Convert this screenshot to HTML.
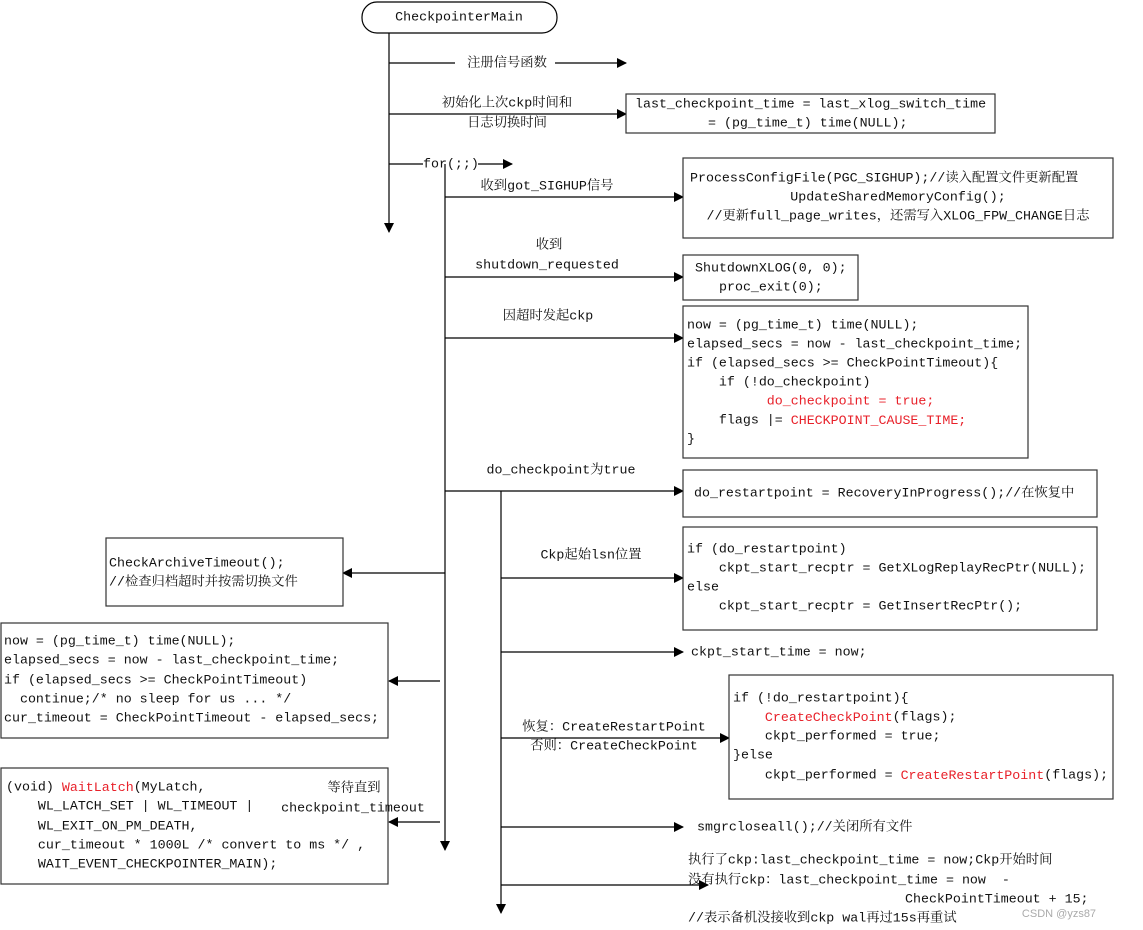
<!DOCTYPE html>
<html><head><meta charset="utf-8"><style>
html,body{margin:0;padding:0;background:#fff;width:1143px;height:930px;overflow:hidden}
svg text{font-family:"Liberation Mono","Noto Serif CJK SC",monospace;font-size:13.3px;fill:#111;dominant-baseline:middle;white-space:pre}
.r{fill:#e8212a}
</style></head><body>
<svg width="1143" height="930" xmlns="http://www.w3.org/2000/svg">
<defs>
<marker id="a" markerWidth="10" markerHeight="10" refX="9" refY="5" orient="auto" markerUnits="userSpaceOnUse"><path d="M0,0 L10,5 L0,10 z" fill="#000"/></marker>
</defs>
<g stroke="#000" stroke-width="1.2" fill="none">
<rect x="362" y="2" width="195" height="31" rx="15" fill="#fff"/>
<line x1="389" y1="33" x2="389" y2="232" marker-end="url(#a)"/>
<line x1="389" y1="63" x2="626" y2="63" marker-end="url(#a)"/>
<line x1="389" y1="114" x2="626" y2="114" marker-end="url(#a)"/>
<line x1="389" y1="164" x2="423" y2="164"/>
<line x1="478" y1="164" x2="512" y2="164" marker-end="url(#a)"/>
<line x1="445" y1="164" x2="445" y2="850" marker-end="url(#a)"/>
<line x1="445" y1="197" x2="683" y2="197" marker-end="url(#a)"/>
<line x1="445" y1="277" x2="683" y2="277" marker-end="url(#a)"/>
<line x1="445" y1="338" x2="683" y2="338" marker-end="url(#a)"/>
<line x1="445" y1="491" x2="683" y2="491" marker-end="url(#a)"/>
<line x1="501" y1="491" x2="501" y2="913" marker-end="url(#a)"/>
<line x1="501" y1="578" x2="683" y2="578" marker-end="url(#a)"/>
<line x1="501" y1="652" x2="683" y2="652" marker-end="url(#a)"/>
<line x1="501" y1="738" x2="729" y2="738" marker-end="url(#a)"/>
<line x1="501" y1="827" x2="683" y2="827" marker-end="url(#a)"/>
<line x1="501" y1="885" x2="708" y2="885" marker-end="url(#a)"/>
<line x1="445" y1="573" x2="343" y2="573" marker-end="url(#a)"/>
<line x1="440" y1="681" x2="389" y2="681" marker-end="url(#a)"/>
<line x1="440" y1="822" x2="389" y2="822" marker-end="url(#a)"/>
</g>
<g stroke="#333" stroke-width="1.2" fill="#fff">
<rect x="626" y="94" width="369" height="39"/>
<rect x="683" y="158" width="430" height="80"/>
<rect x="683" y="255" width="175" height="45"/>
<rect x="683" y="306" width="345" height="152"/>
<rect x="683" y="470" width="414" height="47"/>
<rect x="683" y="527" width="414" height="103"/>
<rect x="729" y="675" width="384" height="124"/>
<rect x="106" y="538" width="237" height="68"/>
<rect x="1" y="623" width="387" height="115"/>
<rect x="1" y="768" width="387" height="116"/>
</g>
<g fill="#fff">
<rect x="455" y="54" width="100" height="18"/>
<rect x="423" y="156" width="55" height="7"/>
</g>
<text x="459" y="17" text-anchor="middle">CheckpointerMain</text>
<text x="507" y="63" text-anchor="middle">注册信号函数</text>
<text x="507" y="103" text-anchor="middle">初始化上次ckp时间和</text>
<text x="507" y="123" text-anchor="middle">日志切换时间</text>
<text x="635" y="104">last_checkpoint_time = last_xlog_switch_time</text>
<text x="708" y="123">= (pg_time_t) time(NULL);</text>
<text x="423" y="164">for(;;)</text>
<text x="547" y="186" text-anchor="middle">收到got_SIGHUP信号</text>
<text x="690" y="178">ProcessConfigFile(PGC_SIGHUP);//读入配置文件更新配置</text>
<text x="898" y="197" text-anchor="middle">UpdateSharedMemoryConfig();</text>
<text x="898" y="216" text-anchor="middle">//更新full_page_writes，还需写入XLOG_FPW_CHANGE日志</text>
<text x="549" y="245" text-anchor="middle">收到</text>
<text x="547" y="265" text-anchor="middle">shutdown_requested</text>
<text x="695" y="268">ShutdownXLOG(0, 0);</text>
<text x="719" y="287">proc_exit(0);</text>
<text x="548" y="316" text-anchor="middle">因超时发起ckp</text>
<text x="687" y="325">now = (pg_time_t) time(NULL);</text>
<text x="687" y="344">elapsed_secs = now - last_checkpoint_time;</text>
<text x="687" y="363">if (elapsed_secs &gt;= CheckPointTimeout){</text>
<text x="687" y="382">    if (!do_checkpoint)</text>
<text x="687" y="401" class="r">          do_checkpoint = true;</text>
<text x="687" y="420">    flags |= <tspan class="r">CHECKPOINT_CAUSE_TIME;</tspan></text>
<text x="687" y="439">}</text>
<text x="561" y="470" text-anchor="middle">do_checkpoint为true</text>
<text x="694" y="493">do_restartpoint = RecoveryInProgress();//在恢复中</text>
<text x="591" y="555" text-anchor="middle">Ckp起始lsn位置</text>
<text x="687" y="549">if (do_restartpoint)</text>
<text x="687" y="568">    ckpt_start_recptr = GetXLogReplayRecPtr(NULL);</text>
<text x="687" y="587">else</text>
<text x="687" y="606">    ckpt_start_recptr = GetInsertRecPtr();</text>
<text x="691" y="652">ckpt_start_time = now;</text>
<text x="614" y="727" text-anchor="middle">恢复：CreateRestartPoint</text>
<text x="614" y="746" text-anchor="middle">否则：CreateCheckPoint</text>
<text x="733" y="698">if (!do_restartpoint){</text>
<text x="733" y="717">    <tspan class="r">CreateCheckPoint</tspan>(flags);</text>
<text x="733" y="736">    ckpt_performed = true;</text>
<text x="733" y="755">}else</text>
<text x="733" y="775">    ckpt_performed = <tspan class="r">CreateRestartPoint</tspan>(flags);</text>
<text x="697" y="827">smgrcloseall();//关闭所有文件</text>
<text x="688" y="860">执行了ckp:last_checkpoint_time = now;Ckp开始时间</text>
<text x="688" y="880">没有执行ckp：last_checkpoint_time = now  -</text>
<text x="905" y="899">CheckPointTimeout + 15;</text>
<text x="688" y="918">//表示备机没接收到ckp wal再过15s再重试</text>
<text x="1059" y="914" text-anchor="middle" style="font-family:'Liberation Sans',sans-serif;font-size:11px;fill:#aaa">CSDN @yzs87</text>
<text x="109" y="563">CheckArchiveTimeout();</text>
<text x="109" y="582">//检查归档超时并按需切换文件</text>
<text x="4" y="641">now = (pg_time_t) time(NULL);</text>
<text x="4" y="660">elapsed_secs = now - last_checkpoint_time;</text>
<text x="4" y="680">if (elapsed_secs &gt;= CheckPointTimeout)</text>
<text x="4" y="699">  continue;/* no sleep for us ... */</text>
<text x="4" y="718">cur_timeout = CheckPointTimeout - elapsed_secs;</text>
<text x="6" y="787">(void) <tspan class="r">WaitLatch</tspan>(MyLatch,</text>
<text x="6" y="806">    WL_LATCH_SET | WL_TIMEOUT |</text>
<text x="6" y="826">    WL_EXIT_ON_PM_DEATH,</text>
<text x="6" y="845">    cur_timeout * 1000L /* convert to ms */ ,</text>
<text x="6" y="864">    WAIT_EVENT_CHECKPOINTER_MAIN);</text>
<text x="354" y="788" text-anchor="middle">等待直到</text>
<text x="353" y="808" text-anchor="middle">checkpoint_timeout</text>
</svg>
</body></html>
